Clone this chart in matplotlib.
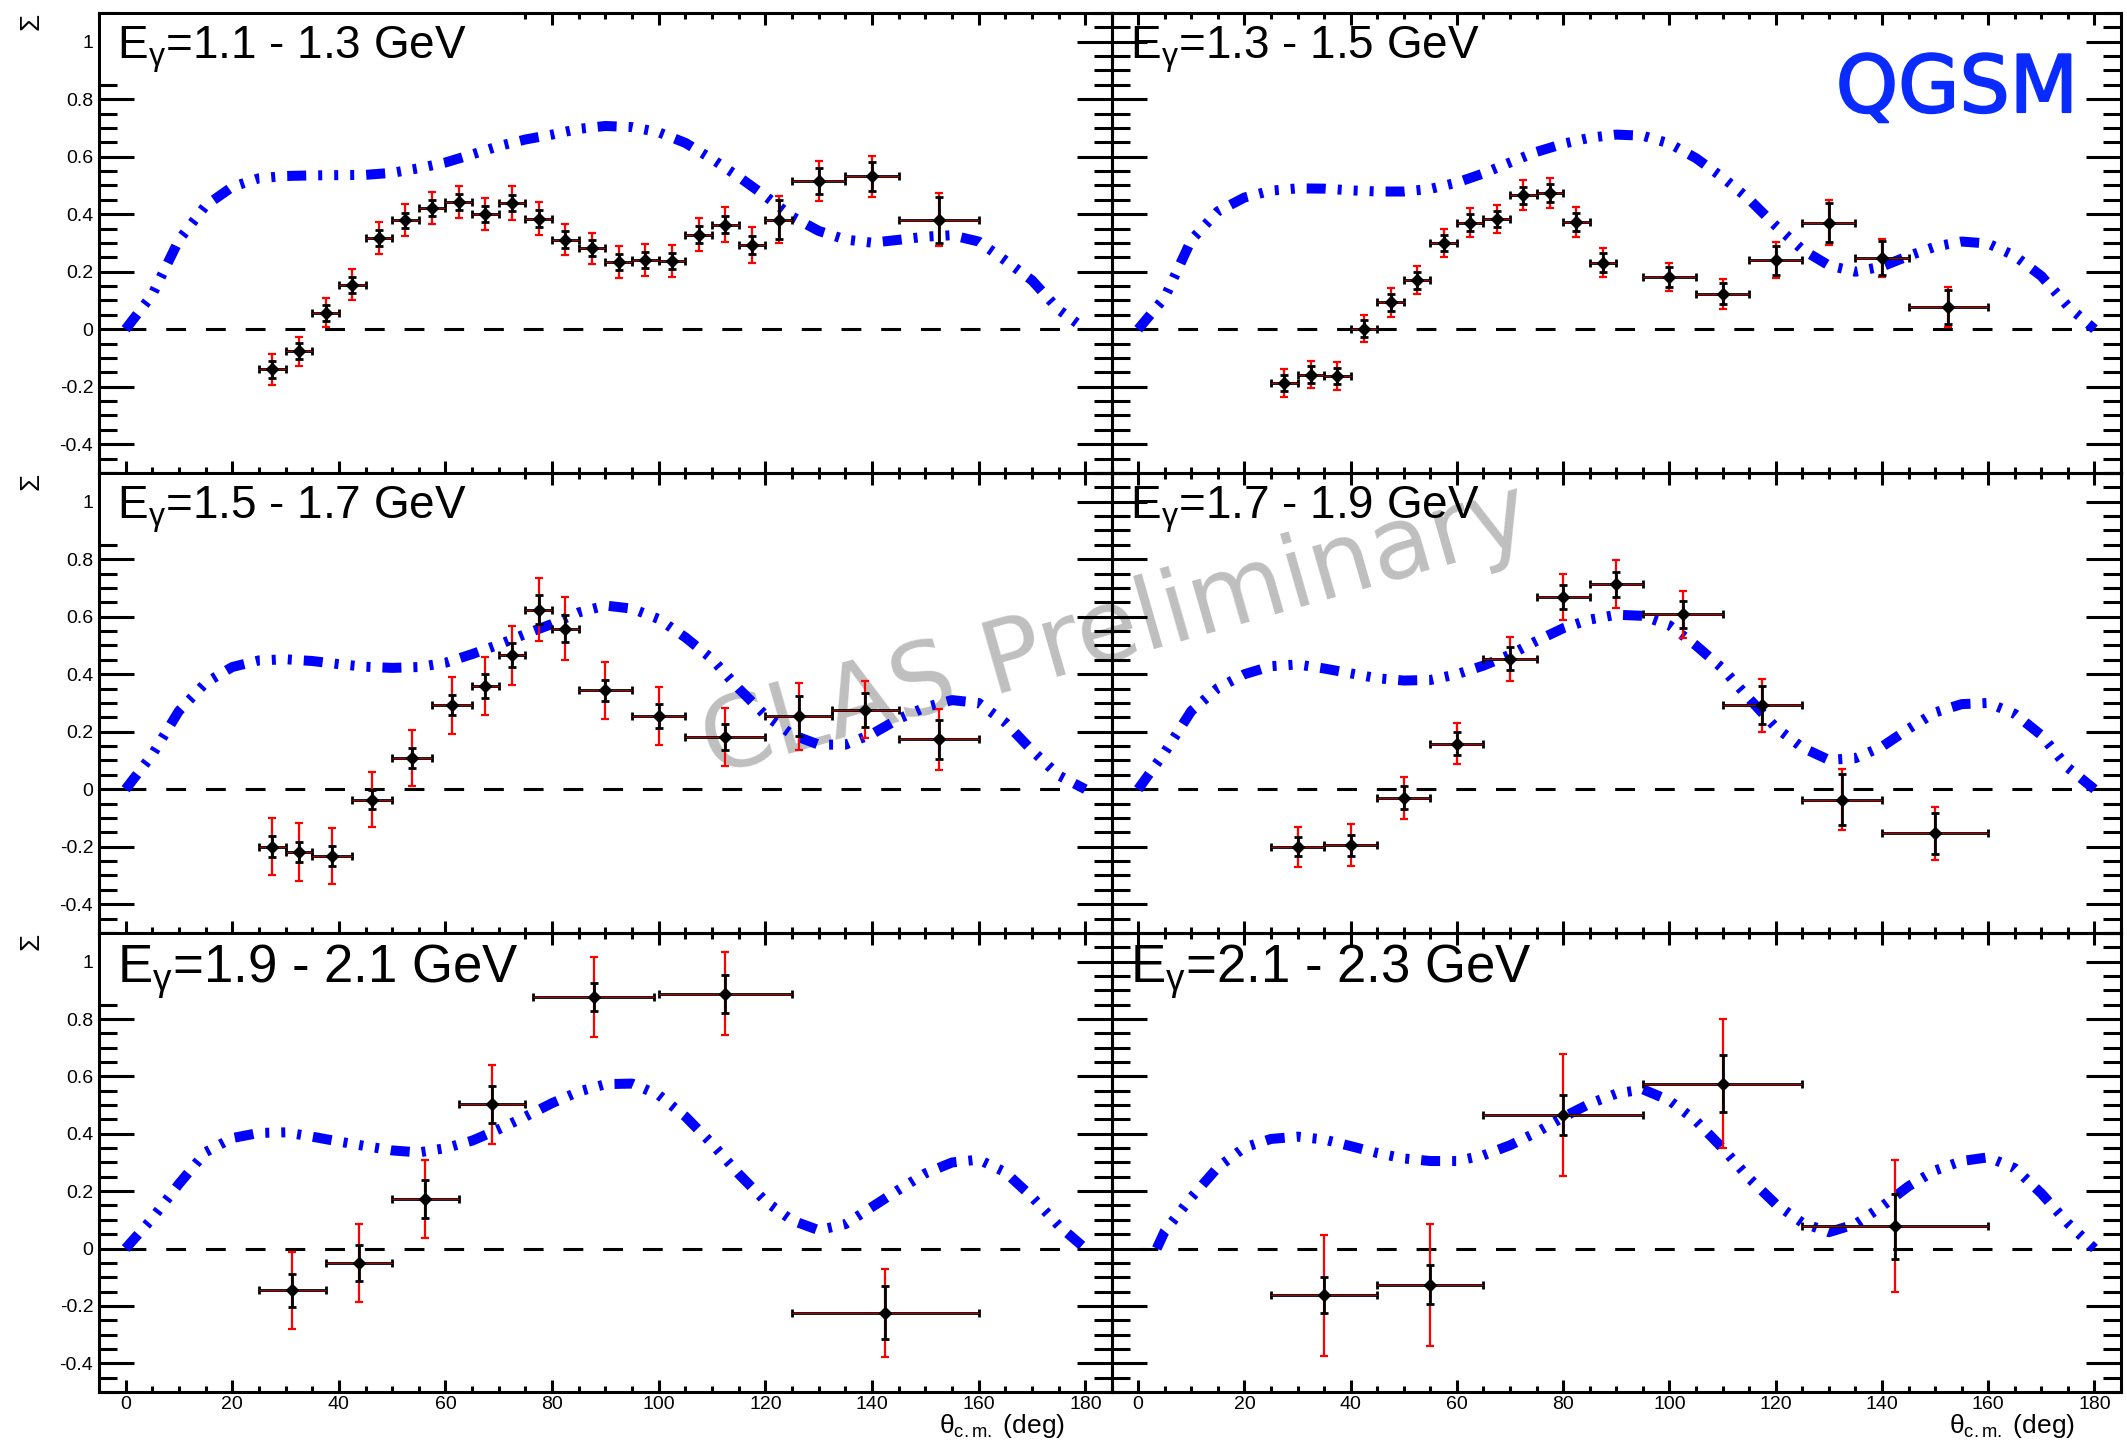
"""
Assimetria de feixe Sigma(theta) para seis faixas de energia do foton:
dados CLAS (preliminares) comparados com a curva do modelo QGSM.
"""
import matplotlib
matplotlib.use("Agg")  # sem tela
import matplotlib.pyplot as plt
import matplotlib.patheffects as pe
from matplotlib.patches import Rectangle
from matplotlib.ticker import FuncFormatter, MultipleLocator

plt.rcParams["font.family"] = ["Liberation Sans", "DejaVu Sans"]
plt.rcParams["mathtext.fontset"] = "custom"
plt.rcParams["mathtext.rm"] = "Liberation Sans"
plt.rcParams["mathtext.it"] = "Liberation Sans:italic"
plt.rcParams["axes.unicode_minus"] = False

AZUL = "#0000ff"
AZUL_TEXTO = "#0a2bff"
CINZA = "#bfbfbf"

FAIXAS = ["1.1 - 1.3", "1.3 - 1.5", "1.5 - 1.7", "1.7 - 1.9", "1.9 - 2.1", "2.1 - 2.3"]

THETA_CURVA = [0, 5, 10, 15, 20, 25, 30, 35, 40, 45, 50, 55, 60, 65, 70, 75, 80, 85, 90,
               95, 100, 105, 110, 115, 120, 125, 130, 135, 140, 145, 150, 155, 160, 165,
               170, 175, 180]
THETA_CURVA_6 = [3.5, 5, 10, 15, 20, 25, 30, 35, 40, 45, 50, 55, 60, 65, 70, 75, 80, 85, 90,
                 95, 100, 105, 110, 115, 120, 125, 130, 135, 140, 145, 150, 155, 160, 165,
                 170, 175, 180]

QGSM_1 = [0.0, 0.12, 0.31, 0.43, 0.495, 0.525, 0.533, 0.535, 0.536, 0.537,
          0.544, 0.56, 0.58, 0.608, 0.637, 0.66, 0.677, 0.697, 0.707, 0.703,
          0.685, 0.648, 0.592, 0.53, 0.463, 0.392, 0.342, 0.312, 0.301, 0.311,
          0.322, 0.327, 0.305, 0.239, 0.17, 0.068, 0.0]
QGSM_2 = [0.0, 0.11, 0.31, 0.41, 0.458, 0.482, 0.49, 0.489, 0.483, 0.479,
          0.479, 0.488, 0.51, 0.542, 0.58, 0.617, 0.645, 0.666, 0.677, 0.673,
          0.646, 0.595, 0.528, 0.452, 0.36, 0.277, 0.222, 0.20, 0.218, 0.255,
          0.287, 0.305, 0.298, 0.255, 0.185, 0.08, 0.0]
QGSM_3 = [0.0, 0.12, 0.272, 0.37, 0.425, 0.448, 0.452, 0.446, 0.435, 0.426,
          0.422, 0.425, 0.44, 0.47, 0.503, 0.54, 0.575, 0.615, 0.639, 0.628,
          0.592, 0.528, 0.453, 0.35, 0.257, 0.19, 0.155, 0.155, 0.192, 0.245,
          0.285, 0.31, 0.30, 0.232, 0.135, 0.048, 0.0]
QGSM_4 = [0.0, 0.128, 0.272, 0.352, 0.40, 0.428, 0.434, 0.42, 0.403, 0.386,
          0.378, 0.38, 0.40, 0.43, 0.468, 0.516, 0.56, 0.59, 0.607, 0.603,
          0.57, 0.50, 0.42, 0.315, 0.215, 0.145, 0.102, 0.108, 0.148, 0.21,
          0.267, 0.296, 0.30, 0.262, 0.188, 0.075, 0.0]
QGSM_5 = [0.0, 0.105, 0.225, 0.336, 0.385, 0.403, 0.405, 0.39, 0.373, 0.357,
          0.342, 0.335, 0.35, 0.376, 0.416, 0.46, 0.507, 0.547, 0.573, 0.575,
          0.535, 0.46, 0.365, 0.26, 0.165, 0.098, 0.064, 0.085, 0.145, 0.205,
          0.262, 0.30, 0.31, 0.266, 0.18, 0.08, 0.0]
QGSM_6 = [0.0, 0.06, 0.178, 0.283, 0.352, 0.382, 0.39, 0.38, 0.357, 0.333,
          0.314, 0.305, 0.305, 0.325, 0.36, 0.405, 0.458, 0.505, 0.54, 0.555,
          0.516, 0.445, 0.35, 0.245, 0.155, 0.09, 0.057, 0.085, 0.147, 0.217,
          0.272, 0.305, 0.318, 0.28, 0.192, 0.088, 0.0]

# ---- pontos medidos: angulo, meia-largura do bin, Sigma, erro estatistico, erro total ----
TH_1 = [27.5, 32.5, 37.5, 42.5, 47.5, 52.5, 57.5, 62.5, 67.5, 72.5, 77.5, 82.5,
        87.5, 92.5, 97.5, 102.5, 107.5, 112.5, 117.5, 122.5, 130, 140, 152.5]
DTH_1 = [2.5] * 20 + [5, 5, 7.5]
SIG_1 = [-0.140, -0.077, 0.057, 0.155, 0.318, 0.379, 0.422, 0.443, 0.400, 0.439, 0.385, 0.312,
         0.281, 0.234, 0.240, 0.237, 0.329, 0.364, 0.294, 0.381, 0.515, 0.532, 0.381]
STAT_1 = [0.030, 0.028, 0.027, 0.028, 0.027, 0.027, 0.027, 0.027, 0.027, 0.028, 0.028, 0.028,
          0.028, 0.028, 0.028, 0.028, 0.030, 0.030, 0.032, 0.068, 0.046, 0.051, 0.080]
TOT_1 = [0.054, 0.050, 0.050, 0.053, 0.056, 0.055, 0.055, 0.055, 0.055, 0.058, 0.058, 0.055,
         0.055, 0.055, 0.055, 0.055, 0.058, 0.061, 0.063, 0.081, 0.070, 0.072, 0.093]

TH_2 = [27.5, 32.5, 37.5, 42.5, 47.5, 52.5, 57.5, 62.5, 67.5, 72.5, 77.5, 82.5,
        87.5, 100, 110, 120, 130, 140, 152.5]
DTH_2 = [2.5] * 13 + [5, 5, 5, 5, 5, 7.5]
SIG_2 = [-0.187, -0.158, -0.163, 0.002, 0.093, 0.170, 0.300, 0.371, 0.383, 0.466, 0.474, 0.373,
         0.232, 0.182, 0.124, 0.240, 0.371, 0.248, 0.078]
STAT_2 = [0.029, 0.029, 0.029, 0.029, 0.029, 0.029, 0.029, 0.029, 0.029, 0.030, 0.030, 0.030,
          0.032, 0.035, 0.036, 0.050, 0.067, 0.060, 0.060]
TOT_2 = [0.048, 0.048, 0.048, 0.048, 0.049, 0.049, 0.050, 0.050, 0.050, 0.052, 0.052, 0.052,
         0.049, 0.049, 0.052, 0.062, 0.077, 0.067, 0.070]

TH_3 = [27.5, 32.5, 38.75, 46.25, 53.75, 61.25, 67.5, 72.5, 77.5, 82.5,
        90, 100, 112.5, 126.25, 138.75, 152.5]
DTH_3 = [2.5, 2.5, 3.75, 3.75, 3.75, 3.75, 2.5, 2.5, 2.5, 2.5, 5, 5, 7.5, 6.25, 6.25, 7.5]
SIG_3 = [-0.200, -0.218, -0.233, -0.036, 0.109, 0.292, 0.359, 0.466, 0.625, 0.559,
         0.344, 0.254, 0.182, 0.254, 0.277, 0.173]
STAT_3 = [0.037, 0.035, 0.035, 0.034, 0.035, 0.035, 0.042, 0.041, 0.049, 0.048,
          0.036, 0.042, 0.045, 0.070, 0.059, 0.067]
TOT_3 = [0.099, 0.100, 0.097, 0.097, 0.097, 0.099, 0.101, 0.103, 0.108, 0.108,
         0.099, 0.100, 0.102, 0.116, 0.100, 0.106]

TH_4 = [30, 40, 50, 60, 70, 80, 90, 102.5, 117.5, 132.5, 150]
DTH_4 = [5, 5, 5, 5, 5, 5, 5, 7.5, 7.5, 7.5, 10]
SIG_4 = [-0.200, -0.195, -0.030, 0.159, 0.454, 0.669, 0.713, 0.608, 0.292, -0.036, -0.154]
STAT_4 = [0.033, 0.036, 0.040, 0.041, 0.040, 0.043, 0.044, 0.048, 0.066, 0.090, 0.073]
TOT_4 = [0.070, 0.073, 0.074, 0.073, 0.077, 0.081, 0.083, 0.083, 0.092, 0.107, 0.093]

TH_5 = [31.25, 43.75, 56.25, 68.75, 87.8, 112.5, 142.5]
DTH_5 = [6.25, 6.25, 6.25, 6.25, 11.3, 12.5, 17.5]
SIG_5 = [-0.146, -0.050, 0.173, 0.503, 0.877, 0.888, -0.224]
STAT_5 = [0.058, 0.063, 0.065, 0.064, 0.050, 0.066, 0.093]
TOT_5 = [0.133, 0.136, 0.137, 0.138, 0.139, 0.145, 0.153]

TH_6 = [35, 55, 80, 110, 142.5]
DTH_6 = [10, 10, 15, 15, 17.5]
SIG_6 = [-0.163, -0.126, 0.466, 0.575, 0.078]
STAT_6 = [0.063, 0.068, 0.069, 0.099, 0.113]
TOT_6 = [0.210, 0.213, 0.213, 0.226, 0.230]

# posicoes dos paineis em fracao da figura (colunas x linhas, sem espaco entre eles)
COLUNAS = [(0.0465, 0.4763), (0.5226, 0.4746)]
LINHAS = [(0.6720, 0.3190), (0.3530, 0.3190), (0.0347, 0.3183)]


def rotulo_y(v, _pos):
    return f"{round(v, 2) + 0.0:g}"


def painel(ax, linha, coluna, faixa, th_curva, curva, th, dth, sig, stat, tot):
    ax.set_xlim(-5, 185)
    ax.set_ylim(-0.5, 1.1)
    ax.patch.set_visible(False)

    # linha do zero tracejada e curva do modelo
    ax.plot([0, 180], [0, 0], color="k", lw=2.2, ls=(0, (6.5, 6.5)), zorder=2)
    ax.plot(th_curva, curva, color=AZUL, lw=7.2,
            ls=(0, (1.9, 1.2, 0.4, 1.2, 0.4, 1.2, 0.4, 1.2)),
            dash_capstyle="butt", zorder=3)

    # erro total (vermelho) por baixo, estatistico (preto) por cima
    ax.errorbar(th, sig, yerr=tot, fmt="none", ecolor="red", elinewidth=1.6,
                capsize=2.6, capthick=1.6, zorder=4)
    ax.errorbar(th, sig, xerr=dth, yerr=stat, fmt="none", ecolor="k", elinewidth=2.0,
                capsize=2.8, capthick=2.0, zorder=5)
    ax.errorbar(th, sig, xerr=dth, fmt="none", ecolor="red", elinewidth=0.5, zorder=6)
    ax.plot(th, sig, "D", color="k", ms=6.5, zorder=7)

    # eixos no estilo ROOT: marcas para dentro nos quatro lados
    ax.xaxis.set_major_locator(MultipleLocator(20))
    ax.xaxis.set_minor_locator(MultipleLocator(5))
    ax.yaxis.set_major_locator(MultipleLocator(0.2))
    ax.yaxis.set_minor_locator(MultipleLocator(0.05))
    ax.tick_params(which="both", direction="in", top=True, right=True, width=2.2,
                   labelsize=14)
    ax.tick_params(axis="y", which="major", length=25, pad=4)
    ax.tick_params(axis="y", which="minor", length=13)
    ax.tick_params(axis="x", which="major", length=8.6, pad=3)
    ax.tick_params(axis="x", which="minor", length=4.3)
    ax.yaxis.set_major_formatter(FuncFormatter(rotulo_y))
    ax.tick_params(axis="y", labelleft=(coluna == 0))
    ax.tick_params(axis="x", labelbottom=(linha == 2))
    for s in ax.spines.values():
        s.set_linewidth(2.2)

    if coluna == 0:
        # caixa branca do titulo esconde as marcas do canto
        ax.add_patch(Rectangle((0.002, 0.854), 0.403, 0.142, transform=ax.transAxes,
                               facecolor="white", edgecolor="none", zorder=2.6))
        ax.text(-0.067, 1.0, "Σ", transform=ax.transAxes, rotation=90,
                ha="center", va="top", fontsize=20)

    tam = 38 if linha == 2 else 33
    yb = 0.891 if linha == 2 else 0.902
    ax.text(0.018, yb, rf"E$_{{\mathrm{{\gamma}}}}$={faixa} GeV", transform=ax.transAxes,
            fontsize=tam, ha="left", va="baseline", zorder=8)

    if linha == 2:
        ax.text(0.954, -0.090, r"$\mathrm{\theta}_{\mathrm{c.m.}}$ (deg)",
                transform=ax.transAxes, fontsize=19, ha="right", va="baseline")


def main():
    fig = plt.figure(figsize=(21.27, 14.42), dpi=100)
    fig.patch.set_facecolor("white")

    dados = [
        (THETA_CURVA, QGSM_1, TH_1, DTH_1, SIG_1, STAT_1, TOT_1),
        (THETA_CURVA, QGSM_2, TH_2, DTH_2, SIG_2, STAT_2, TOT_2),
        (THETA_CURVA, QGSM_3, TH_3, DTH_3, SIG_3, STAT_3, TOT_3),
        (THETA_CURVA, QGSM_4, TH_4, DTH_4, SIG_4, STAT_4, TOT_4),
        (THETA_CURVA, QGSM_5, TH_5, DTH_5, SIG_5, STAT_5, TOT_5),
        (THETA_CURVA_6, QGSM_6, TH_6, DTH_6, SIG_6, STAT_6, TOT_6),
    ]
    for i, faixa in enumerate(FAIXAS):
        linha, coluna = divmod(i, 2)
        x0, w = COLUNAS[coluna]
        y0, h = LINHAS[linha]
        ax = fig.add_axes([x0, y0, w, h])
        painel(ax, linha, coluna, faixa, *dados[i])

    # marca d'agua por baixo de tudo
    fig.text(0.5247, 0.5624, "CLAS Preliminary", rotation=16, rotation_mode="anchor",
             ha="center", va="center", fontsize=72, color=CINZA,
             family="DejaVu Sans", zorder=-1)
    fig.text(0.977, 0.9223, "QGSM", ha="right", va="baseline", fontsize=57,
             color=AZUL_TEXTO, family="DejaVu Sans",
             path_effects=[pe.withStroke(linewidth=1.5, foreground=AZUL_TEXTO)])

    fig.savefig("out.png", dpi=100)
    plt.close(fig)


if __name__ == "__main__":
    main()
